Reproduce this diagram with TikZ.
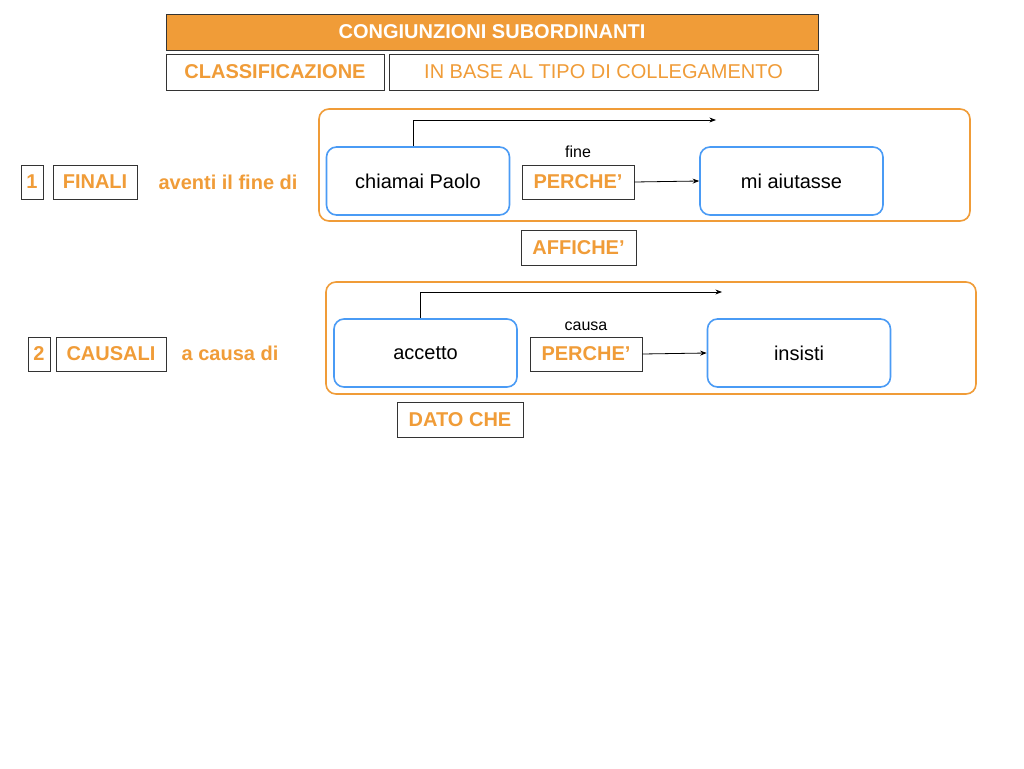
\documentclass[tikz,border=0pt]{standalone}
\usepackage{fontspec}
\setmainfont{Liberation Sans}
\usetikzlibrary{positioning}
\usetikzlibrary{arrows.meta}
\definecolor{arancio}{HTML}{F09C38}
\definecolor{azzurro}{HTML}{4A9BF5}
\tikzset{
  etichetta/.style={draw=black!80,thick,inner sep=0pt,text=arancio,font=\fontsize{20}{24}\selectfont\bfseries},
  frase/.style={draw=azzurro,line width=1.6pt,rounded corners=10pt,minimum width=183pt,minimum height=68pt,font=\fontsize{20}{24}\selectfont},
  cornice/.style={draw=arancio,line width=1.6pt,rounded corners=10pt},
  testo/.style={text=arancio,font=\fontsize{20}{24}\selectfont\bfseries}
}
\begin{document}
\begin{tikzpicture}[x=1pt,y=-1pt]
\useasboundingbox (0,0) rectangle (1024,768);
\fill[white] (0,0) rectangle (1024,768);

\node[draw=black!80,thick,fill=arancio,minimum width=652pt,minimum height=36pt,text=white,font=\fontsize{20}{24}\selectfont\bfseries] (titolo) at (492,32) {CONGIUNZIONI SUBORDINANTI};
\node[etichetta,minimum width=218pt,minimum height=36pt] (classe) at (275,72) {CLASSIFICAZIONE};
\node[etichetta,minimum width=429pt,minimum height=36pt,font=\fontsize{20}{24}\selectfont] (base) at (603.5,72) {IN BASE AL TIPO DI COLLEGAMENTO};

% riga 1
\draw[cornice] (319,109) rectangle (970,221);
\node[etichetta,minimum width=22pt,minimum height=34pt] (n1) at (32,182) {1};
\node[etichetta,minimum width=84pt,minimum height=34pt] (finali) at (95,182) {FINALI};
\node[testo] (fine1) at (228,182) {aventi il fine di};
\node[frase] (chiamai) at (418,181) {chiamai Paolo};
\node[frase] (aiuto) at (791.5,181) {mi aiutasse};
\node[etichetta,minimum width=112pt,minimum height=34pt] (perche1) at (578,182) {PERCHE’};
\node[font=\fontsize{16}{18}\selectfont] (fine) at (578,152) {fine};
\coordinate (fr1) at (716,120);
\draw[thick,-{Stealth}] (perche1.east) -- (aiuto.west);
\draw[thick,-{Stealth}] (chiamai.north -| 413,0) |- (fr1);
\node[etichetta,minimum width=115pt,minimum height=35pt] (affiche) at (578.5,247.5) {AFFICHE’};

% riga 2
\draw[cornice] (326,282) rectangle (976,394);
\node[etichetta,minimum width=22pt,minimum height=34pt] (n2) at (39,354) {2};
\node[etichetta,minimum width=110pt,minimum height=34pt] (causali) at (111,354) {CAUSALI};
\node[testo] (causa1) at (230,353) {a causa di};
\node[frase] (accetto) at (425.5,353) {accetto};
\node[frase] (insisti) at (799,353) {insisti};
\node[etichetta,minimum width=112pt,minimum height=34pt] (perche2) at (586,354) {PERCHE’};
\node[font=\fontsize{16}{18}\selectfont] (causa) at (586,326) {causa};
\coordinate (fr2) at (722,292);
\draw[thick,-{Stealth}] (perche2.east) -- (insisti.west);
\draw[thick,-{Stealth}] (accetto.north -| 420,0) |- (fr2);
\node[etichetta,minimum width=126pt,minimum height=35pt] (datoche) at (460,419.5) {DATO CHE};
\end{tikzpicture}
\end{document}
